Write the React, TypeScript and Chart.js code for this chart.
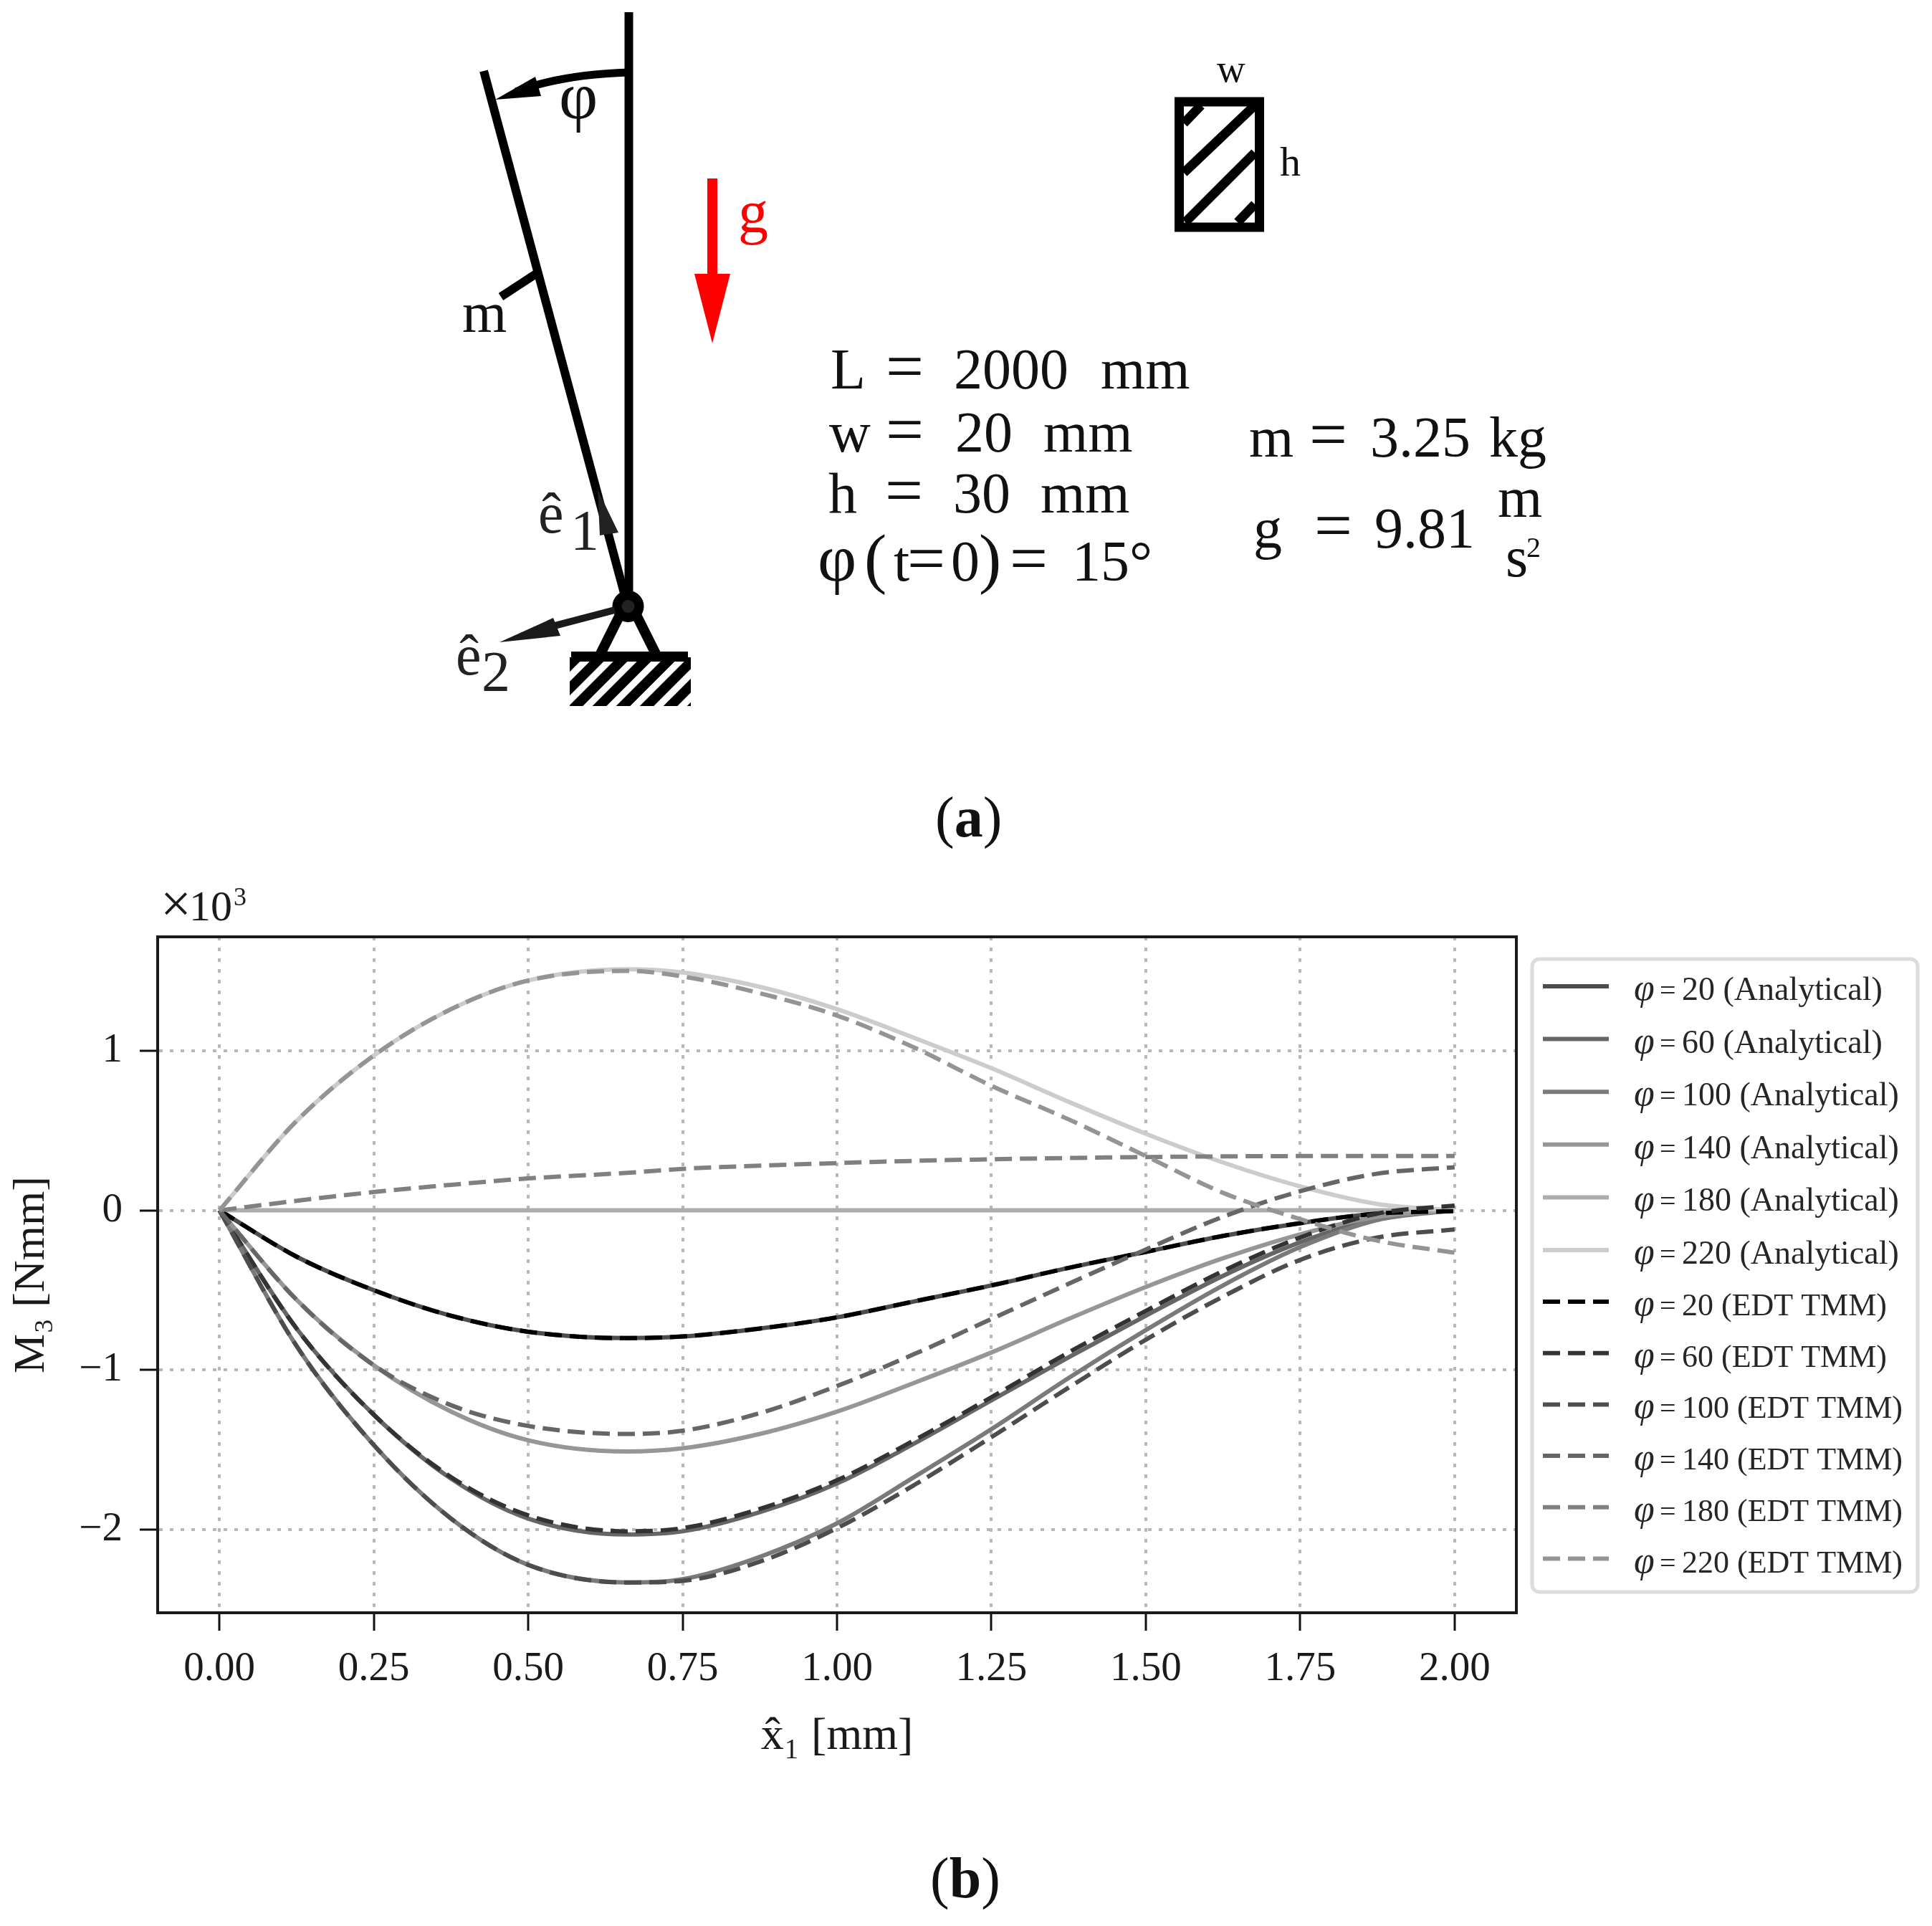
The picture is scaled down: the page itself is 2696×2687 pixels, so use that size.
import { useEffect, useRef } from 'react'
import { Chart, registerables } from 'chart.js'

Chart.register(...registerables)

const SERIF = '"Liberation Serif", serif'

const xValues = [0, 0.125, 0.25, 0.375, 0.5, 0.66, 0.75, 0.875, 1, 1.125, 1.25, 1.375, 1.5, 1.625, 1.75, 1.875, 2]
const xTicks = [0, 0.25, 0.5, 0.75, 1, 1.25, 1.5, 1.75, 2]
const yTicks = [-2, -1, 0, 1]

// Analytical curves, in units of 10^3 Nmm
const analytical20 = [0, -0.29, -0.5, -0.66, -0.76, -0.8, -0.79, -0.74, -0.67, -0.57, -0.47, -0.36, -0.26, -0.16, -0.08, -0.02, 0]
const analytical60 = [0, -0.74, -1.28, -1.68, -1.93, -2.03, -2.01, -1.89, -1.71, -1.46, -1.19, -0.92, -0.66, -0.41, -0.2, -0.05, 0]
const analytical100 = [0, -0.85, -1.47, -1.93, -2.22, -2.33, -2.31, -2.17, -1.96, -1.67, -1.37, -1.05, -0.75, -0.47, -0.23, -0.06, 0]
const analytical140 = [0, -0.56, -0.97, -1.26, -1.44, -1.51, -1.49, -1.4, -1.26, -1.08, -0.89, -0.68, -0.48, -0.3, -0.15, -0.04, 0]
const analytical180 = [0, 0, 0, 0, 0, 0, 0, 0, 0, 0, 0, 0, 0, 0, 0, 0, 0]
const analytical220 = [0, 0.56, 0.97, 1.26, 1.44, 1.51, 1.49, 1.4, 1.26, 1.08, 0.89, 0.68, 0.48, 0.3, 0.15, 0.04, 0]

// EDT TMM curves
const edt20 = [0, -0.29, -0.5, -0.66, -0.76, -0.8, -0.79, -0.74, -0.67, -0.57, -0.47, -0.36, -0.26, -0.16, -0.08, -0.02, -0.005]
const edt60 = [0, -0.74, -1.28, -1.67, -1.91, -2.01, -1.99, -1.87, -1.69, -1.44, -1.17, -0.89, -0.63, -0.38, -0.17, -0.02, 0.03]
const edt100 = [0, -0.85, -1.47, -1.93, -2.22, -2.33, -2.32, -2.2, -1.99, -1.72, -1.42, -1.11, -0.81, -0.54, -0.31, -0.17, -0.12]
const edt140 = [0, -0.56, -0.97, -1.22, -1.35, -1.4, -1.38, -1.27, -1.1, -0.9, -0.68, -0.46, -0.245, -0.04, 0.12, 0.23, 0.27]
const edt180 = [0, 0.06, 0.115, 0.16, 0.2, 0.235, 0.26, 0.28, 0.296, 0.31, 0.32, 0.328, 0.334, 0.338, 0.34, 0.34, 0.34]
const edt220 = [0, 0.56, 0.97, 1.26, 1.44, 1.5, 1.465, 1.36, 1.22, 1.02, 0.78, 0.57, 0.34, 0.11, -0.055, -0.19, -0.265]

const angles = [20, 60, 100, 140, 180, 220]
const analyticalSeries = [analytical20, analytical60, analytical100, analytical140, analytical180, analytical220]
const edtSeries = [edt20, edt60, edt100, edt140, edt180, edt220]
const analyticalColors = ['#4d4d4d', '#666666', '#7a7a7a', '#969696', '#adadad', '#cccccc']
const edtColors = ['#000000', '#333333', '#4d4d4d', '#666666', '#808080', '#949494']

const toPoints = (values: number[]) => values.map((y, i) => ({ x: xValues[i], y }))

// Frame, the x10^3 offset label and the boxed legend on the right
const decorations = {
  id: 'decorations',
  afterDatasetsDraw(chart: Chart) {
    const { ctx, chartArea } = chart
    ctx.save()
    ctx.strokeStyle = '#1a1a1a'
    ctx.lineWidth = 4
    ctx.strokeRect(chartArea.left, chartArea.top, chartArea.right - chartArea.left, chartArea.bottom - chartArea.top)

    ctx.fillStyle = '#1a1a1a'
    ctx.textBaseline = 'alphabetic'
    ctx.font = `76px ${SERIF}`
    ctx.fillText('×', 224, 1286)
    ctx.font = `60px ${SERIF}`
    ctx.fillText('10', 264, 1284)
    ctx.font = `36px ${SERIF}`
    ctx.fillText('3', 326, 1263)

    ctx.beginPath()
    ctx.roundRect(2138, 1338, 538, 883, 10)
    ctx.fillStyle = '#ffffff'
    ctx.fill()
    ctx.strokeStyle = '#dcdcdc'
    ctx.lineWidth = 5
    ctx.stroke()

    chart.data.datasets.forEach((ds: any, i: number) => {
      const y = i < 6 ? 1376 + i * 73.6 : 1816 + (i - 6) * 71.7
      ctx.beginPath()
      ctx.strokeStyle = ds.borderColor
      ctx.lineWidth = 6
      ctx.setLineDash(ds.borderDash ?? [])
      ctx.moveTo(2153, y)
      ctx.lineTo(2245, y)
      ctx.stroke()
      ctx.setLineDash([])
      ctx.fillStyle = '#262626'
      ctx.font = `italic 52px ${SERIF}`
      ctx.fillText('φ', 2280, y + 19)
      // "φ = 20 (Analytical)" -> "=" and the rest are placed apart, tighter than a plain string
      const rest = ds.label.slice(4)
      ctx.font = `40px ${SERIF}`
      ctx.fillText('=', 2316, y + 19)
      ctx.font = `${i < 6 ? 46 : 44}px ${SERIF}`
      ctx.fillText(rest, 2347, y + 19)
    })
    ctx.restore()
  },
}

function Eq({ x, y }: { x: number; y: number }) {
  return <text x={x} y={y} fontFamily={SERIF} fontSize={94} fill="#111">=</text>
}

function Schematic() {
  const text = { fontFamily: SERIF, fontSize: 80, fill: '#111' }
  const phi = { fontFamily: SERIF, fontSize: 94, fill: '#111' }
  return (
    <svg width={2696} height={2687} style={{ position: 'absolute', left: 0, top: 0, pointerEvents: 'none' }}>
      <defs>
        <clipPath id="ground">
          <rect x={795} y={923} width={169} height={62} />
        </clipPath>
      </defs>
      {/* pendulum */}
      <g stroke="#000" fill="none" strokeWidth={12}>
        <line x1={877.5} y1={17} x2={877.5} y2={846} />
        <line x1={675} y1={99} x2={876} y2={846} />
        <line x1={699} y1={414} x2={748} y2={382} />
        <path d="M 877 101 Q 783 104 720 128" strokeWidth={11} />
        <line x1={866} y1={856} x2={838} y2={912} strokeWidth={14} />
        <line x1={887} y1={856} x2={915} y2={912} strokeWidth={14} />
        <circle cx={876.5} cy={846} r={15.5} strokeWidth={13} fill="#222" />
      </g>
      <polygon points="691,139 747,107 755,134" fill="#000" />
      <line x1={858} y1={851} x2={770} y2={874} stroke="#1a1a1a" strokeWidth={10} />
      <polygon points="697,896 772,862 782,887" fill="#1a1a1a" />
      <polygon points="834,683 863,743 837,747" fill="#222" />

      {/* ground */}
      <rect x={797} y={909} width={163} height={14} fill="#000" />
      <rect x={795} y={917} width={169} height={68} fill="#000" />
      <g clipPath="url(#ground)" stroke="#fff" strokeWidth={9.5}>
        {[0, 1, 2, 3, 4, 5, 6].map(k => (
          <line key={k} x1={749 + k * 33} y1={990} x2={824 + k * 33} y2={915} />
        ))}
      </g>

      {/* gravity */}
      <line x1={994} y1={249} x2={994} y2={385} stroke="#f00" strokeWidth={14} />
      <polygon points="969,382 1019,382 994,479" fill="#f00" />
      <text x={1030} y={324} fontFamily={SERIF} fontSize={84} fill="#f00">g</text>

      {/* cross section */}
      <rect x={1645.5} y={142} width={112} height={175} fill="none" stroke="#000" strokeWidth={13} />
      <g stroke="#000" strokeWidth={13}>
        <line x1={1652} y1={172} x2={1676} y2={147} />
        <line x1={1652} y1={241} x2={1751} y2={147} />
        <line x1={1654} y1={310} x2={1751} y2={213} />
        <line x1={1727} y1={310} x2={1751} y2={285} />
      </g>
      <text x={1698} y={114} fontFamily={SERIF} fontSize={55} fill="#111">w</text>
      <text x={1786} y={245} fontFamily={SERIF} fontSize={58} fill="#111">h</text>

      {/* labels on the drawing */}
      <text x={780} y={165} {...phi}>φ</text>
      <text x={645} y={463} {...text}>m</text>
      <text x={751} y={743} {...text} fill="#222">ê</text>
      <text x={796} y={767} {...text} fill="#222">1</text>
      <text x={636} y={941} {...text} fill="#222">ê</text>
      <text x={672} y={964} {...text} fill="#222">2</text>

      {/* parameters */}
      <text x={1159} y={542} {...text}>L</text>
      <Eq x={1236} y={542} />
      <text x={1331} y={542} {...text}>2000</text>
      <text x={1536} y={542} {...text}>mm</text>
      <text x={1157} y={630} {...text}>w</text>
      <Eq x={1236} y={630} />
      <text x={1333} y={630} {...text}>20</text>
      <text x={1456} y={630} {...text}>mm</text>
      <text x={1156} y={715} {...text}>h</text>
      <Eq x={1235} y={715} />
      <text x={1330} y={715} {...text}>30</text>
      <text x={1452} y={715} {...text}>mm</text>
      <text x={1141} y={810} {...phi}>φ</text>
      <text x={1206} y={810} fontFamily={SERIF} fontSize={94} fill="#111">(</text>
      <text x={1247} y={810} {...text}>t</text>
      <Eq x={1266} y={810} />
      <text x={1327} y={810} {...text}>0</text>
      <text x={1366} y={810} fontFamily={SERIF} fontSize={94} fill="#111">)</text>
      <Eq x={1409} y={810} />
      <text x={1496} y={810} {...text}>15°</text>
      <text x={1743} y={637} {...text}>m</text>
      <Eq x={1827} y={637} />
      <text x={1912} y={637} {...text}>3.25</text>
      <text x={2078} y={637} {...text}>kg</text>
      <text x={1749} y={764} {...text}>g</text>
      <Eq x={1834} y={764} />
      <text x={1918} y={764} {...text}>9.81</text>
      <text x={2090} y={721} {...text}>m</text>
      <text x={2101} y={804} {...text}>s</text>
      <text x={2130} y={777} fontFamily={SERIF} fontSize={40} fill="#111">2</text>

      {/* panel captions */}
      <text x={1305} y={1167} fontFamily={SERIF} fontSize={80} fill="#111">(<tspan fontWeight="bold">a</tspan>)</text>
      <text x={1298} y={2647} fontFamily={SERIF} fontSize={80} fill="#111">(<tspan fontWeight="bold">b</tspan>)</text>
    </svg>
  )
}

export default function App() {
  const chartRef = useRef<HTMLCanvasElement>(null)

  useEffect(() => {
    const ctx = chartRef.current?.getContext('2d')
    if (!ctx) return

    // Chart.js paints lower `order` on top, so count down to keep the dashed set above the solid one
    const datasets = [
      ...angles.map((a, i) => ({
        label: `φ = ${a} (Analytical)`,
        data: toPoints(analyticalSeries[i]),
        borderColor: analyticalColors[i],
        borderWidth: 6,
        order: 12 - i,
      })),
      ...angles.map((a, i) => ({
        label: `φ = ${a} (EDT TMM)`,
        data: toPoints(edtSeries[i]),
        borderColor: edtColors[i],
        borderWidth: 6,
        borderDash: [24, 11],
        order: 6 - i,
      })),
    ]

    const tickFont = { family: SERIF, size: 57 }
    const grid = { color: '#b8b8b8', lineWidth: 4, tickColor: '#111', tickWidth: 3, tickLength: 25 }
    const border = { color: '#1a1a1a', width: 4, dash: [5, 10] }

    const chart = new Chart(ctx, {
      type: 'line',
      data: { datasets },
      plugins: [decorations],
      options: {
        responsive: false,
        animation: false,
        devicePixelRatio: 1,
        layout: { padding: { left: 0, top: 1307, right: 580, bottom: 225 } },
        elements: { point: { radius: 0 }, line: { cubicInterpolationMode: 'monotone', fill: false } },
        plugins: { legend: { display: false }, tooltip: { enabled: false } },
        scales: {
          x: {
            type: 'linear',
            min: -0.1,
            max: 2.1,
            afterFit: (s: any) => { s.height = 212 },
            afterBuildTicks: (s: any) => { s.ticks = xTicks.map(value => ({ value })) },
            ticks: {
              font: tickFont,
              color: '#1a1a1a',
              padding: 20,
              maxRotation: 0,
              autoSkip: false,
              callback: (v: any) => Number(v).toFixed(2),
            },
            grid,
            border,
            title: { display: true, text: 'x̂₁ [mm]', font: { family: SERIF, size: 64 }, color: '#1a1a1a', padding: 0 },
          },
          y: {
            type: 'linear',
            min: -2.52,
            max: 1.713,
            afterFit: (s: any) => { s.width = 220 },
            afterBuildTicks: (s: any) => { s.ticks = yTicks.map(value => ({ value })) },
            ticks: {
              font: tickFont,
              color: '#1a1a1a',
              padding: 24,
              autoSkip: false,
              callback: (v: any) => String(v).replace('-', '−'),
            },
            grid,
            border,
            title: {
              display: true,
              text: 'M₃ [Nmm]',
              font: { family: SERIF, size: 62 },
              color: '#1a1a1a',
              padding: { top: 8, bottom: 0 },
            },
          },
        },
      },
    })

    return () => chart.destroy()
  }, [])

  return (
    <div style={{ position: 'absolute', left: 0, top: 0, width: 2696, height: 2687, background: '#fff' }}>
      <canvas ref={chartRef} width={2696} height={2687} style={{ position: 'absolute', left: 0, top: 0 }} />
      <Schematic />
    </div>
  )
}
